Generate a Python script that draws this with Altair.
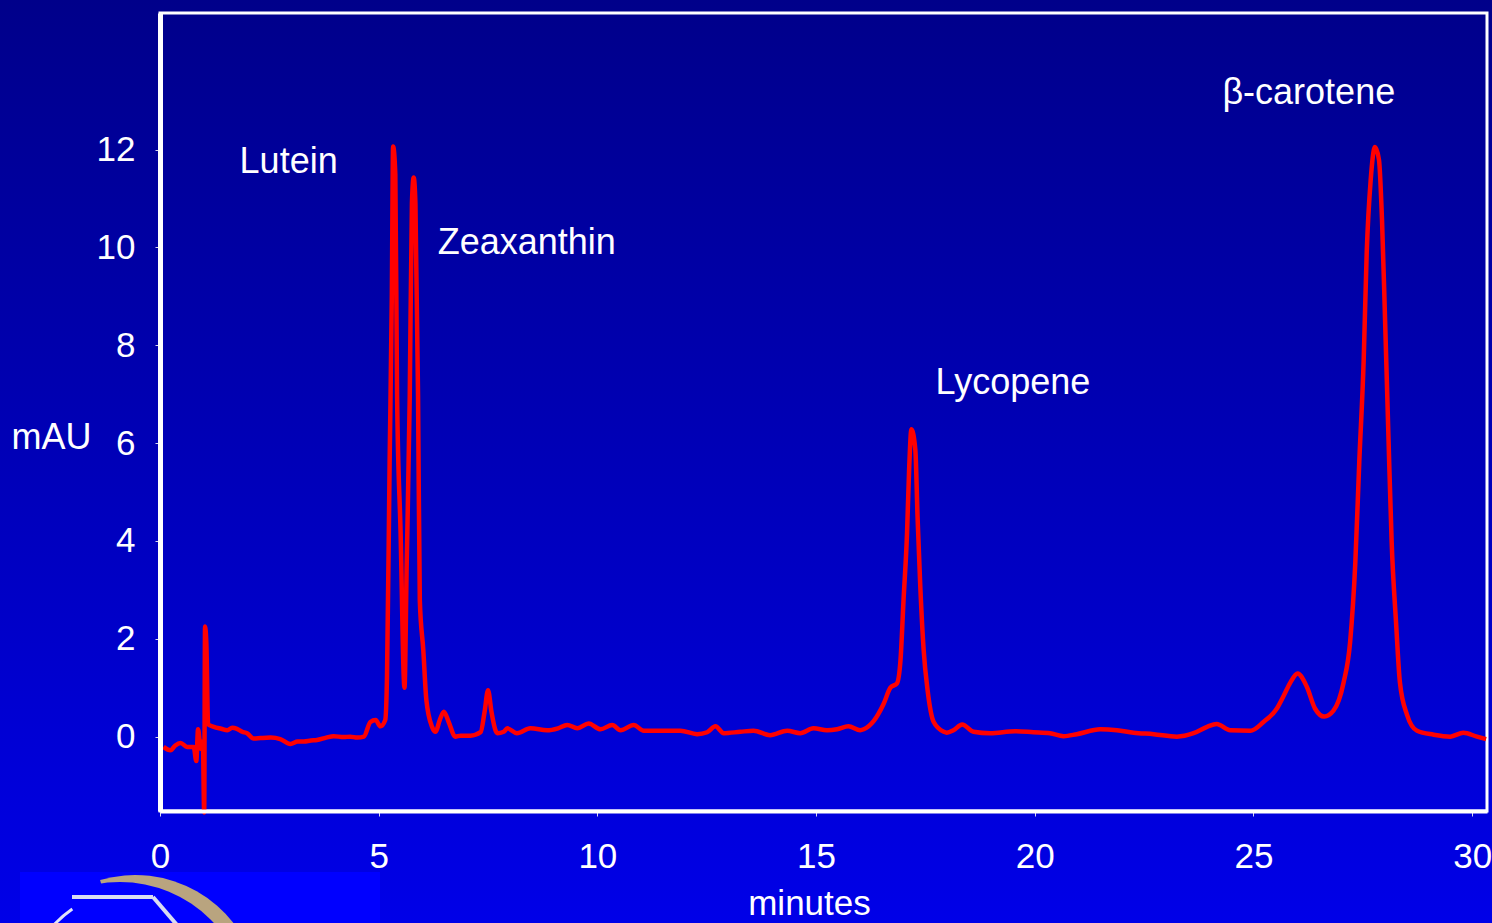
import altair as alt
import pandas as pd

# Chromatogram trace: retention time (minutes) and detector response (mAU)
time_min = [
    0.08, 0.24, 0.35, 0.47, 0.62, 0.77, 0.83, 0.87, 0.93, 0.98,
    1.01, 1.03, 1.06, 1.10, 1.23, 1.40, 1.54, 1.65, 1.76, 1.88,
    1.99, 2.14, 2.30, 2.53, 2.75, 2.98, 3.15, 3.29, 3.45, 3.59,
    3.80, 3.97, 4.20, 4.35, 4.51, 4.66, 4.81, 4.93, 5.04, 5.15,
    5.19, 5.25, 5.30, 5.33, 5.38, 5.42, 5.50, 5.59, 5.64, 5.71,
    5.76, 5.80, 5.84, 5.90, 5.94, 6.02, 6.09, 6.22, 6.30, 6.40,
    6.49, 6.60, 6.75, 6.87, 7.10, 7.33, 7.42, 7.50, 7.58, 7.67,
    7.71, 7.86, 7.94, 8.16, 8.47, 8.85, 9.10, 9.31, 9.54, 9.80,
    10.07, 10.34, 10.53, 10.83, 11.06, 11.44, 11.90, 12.28, 12.51, 12.70,
    12.89, 13.27, 13.57, 13.95, 14.34, 14.64, 14.94, 15.25, 15.48, 15.74,
    16.01, 16.09, 16.32, 16.54, 16.70, 16.85, 16.93, 17.00, 17.08, 17.13,
    17.18, 17.27, 17.32, 17.38, 17.46, 17.55, 17.69, 17.92, 17.99, 18.14,
    18.34, 18.60, 18.98, 19.55, 19.97, 20.35, 20.66, 20.96, 21.50, 21.88,
    22.26, 22.72, 23.25, 23.63, 23.94, 24.16, 24.47, 24.93, 25.23, 25.54,
    25.70, 25.84, 26.01, 26.22, 26.41, 26.62, 26.83, 27.06, 27.21, 27.33,
    27.42, 27.52, 27.59, 27.68, 27.78, 27.87, 27.94, 28.01, 28.09, 28.16,
    28.26, 28.35, 28.51, 28.74, 29.12, 29.50, 29.80, 30.11, 30.32,
]
mau = [
    -0.21, -0.28, -0.18, -0.13, -0.21, -0.21, -0.50, 0.15, -0.25, -0.10,
    -1.55, 2.25, 1.90, 0.25, 0.20, 0.16, 0.13, 0.18, 0.16, 0.10,
    0.07, -0.04, -0.03, -0.02, -0.05, -0.15, -0.10, -0.10, -0.08, -0.07,
    -0.02, 0.01, -0.01, 0.00, -0.02, 0.00, 0.30, 0.34, 0.21, 0.34,
    1.22, 5.60, 9.00, 12.06, 11.50, 7.00, 4.20, 1.00, 3.50, 6.95,
    10.90, 11.43, 10.90, 6.95, 2.79, 1.77, 0.75, 0.20, 0.10, 0.35,
    0.51, 0.30, 0.00, 0.02, 0.02, 0.09, 0.50, 0.95, 0.50, 0.13,
    0.07, 0.10, 0.17, 0.07, 0.17, 0.13, 0.17, 0.24, 0.17, 0.27,
    0.15, 0.24, 0.13, 0.24, 0.12, 0.12, 0.12, 0.05, 0.09, 0.21,
    0.07, 0.10, 0.12, 0.03, 0.12, 0.07, 0.17, 0.13, 0.15, 0.21,
    0.13, 0.15, 0.32, 0.66, 1.00, 1.09, 1.56, 2.79, 4.16, 5.52,
    6.28, 5.86, 4.50, 3.13, 1.77, 0.95, 0.30, 0.10, 0.08, 0.13,
    0.25, 0.10, 0.07, 0.11, 0.09, 0.07, 0.01, 0.05, 0.15, 0.13,
    0.08, 0.05, 0.00, 0.07, 0.20, 0.26, 0.13, 0.12, 0.30, 0.58,
    0.85, 1.10, 1.29, 1.02, 0.57, 0.41, 0.53, 1.10, 1.93, 3.57,
    5.62, 7.68, 9.90, 11.37, 12.05, 11.79, 10.55, 8.50, 6.03, 3.98,
    2.34, 1.10, 0.45, 0.12, 0.04, 0.00, 0.08, 0.00, -0.05,
]

# Peak annotations
peak_names = ["Lutein", "Zeaxanthin", "Lycopene", "β-carotene"]
label_time = [1.82, 6.35, 17.73, 24.29]
label_mau = [11.53, 9.87, 7.00, 12.93]

x_ticks = [0, 5, 10, 15, 20, 25, 30]
y_ticks = [0, 2, 4, 6, 8, 10, 12]

W, H = 1327, 798
PAD = {"left": 160, "top": 13, "right": 5, "bottom": 112}
FONT = "Liberation Sans"

trace = pd.DataFrame({"minutes": time_min, "mAU": mau})
labels = pd.DataFrame({"name": peak_names, "minutes": label_time, "mAU": label_mau})
one = pd.DataFrame({"k": [0]})

x_scale = alt.Scale(domain=[0, 30.34], nice=False, zero=False)
y_scale = alt.Scale(domain=[-1.52, 14.79], nice=False, zero=False)

x_axis = alt.Axis(
    values=x_ticks, title="minutes", titleX=649, titleY=92,
    titleAlign="center", titleBaseline="middle",
    titleFont=FONT, titleFontSize=35, titleFontWeight="normal", titleColor="white",
    labelFont=FONT, labelFontSize=35, labelColor="white", labelPadding=23,
    labelFlush=False,
    tickColor="#d8d8ee", tickSize=5, tickWidth=1,
    domainColor="white", domainWidth=4, grid=False, zindex=1,
)
y_axis = alt.Axis(
    values=y_ticks, title="mAU", titleAngle=0, titleX=-109, titleY=424,
    titleAlign="center", titleBaseline="middle",
    titleFont=FONT, titleFontSize=36, titleFontWeight="normal", titleColor="white",
    labelFont=FONT, labelFontSize=35, labelColor="white", labelPadding=20,
    tickColor="#d8d8ee", tickSize=5, tickWidth=1,
    domainColor="white", domainWidth=5, grid=False, zindex=1,
)

# Slide-style blue gradient behind everything
gradient = {
    "gradient": "linear",
    "x1": 0, "y1": 0, "x2": 0, "y2": 1,
    "stops": [
        {"offset": 0, "color": "#00008a"},
        {"offset": 0.5, "color": "#0000b8"},
        {"offset": 1, "color": "#0000e8"},
    ],
}
background = alt.Chart(one).mark_rect(fill=gradient).encode(
    x=alt.value(-PAD["left"]), x2=alt.value(W + PAD["right"]),
    y=alt.value(-PAD["top"]), y2=alt.value(H + PAD["bottom"]),
)

# Logo fragment in the lower-left corner: blue tile, tan crescent, light chevron
logo_box = alt.Chart(one).mark_rect(fill="#0000ff").encode(
    x=alt.value(-140), x2=alt.value(220), y=alt.value(859), y2=alt.value(915),
)
logo_sector = alt.Chart(one).mark_arc(
    fill="#b9a47f", theta=6.0, theta2=7.6, radius=125
).encode(x=alt.value(-25), y=alt.value(987))
logo_carve = alt.Chart(one).mark_arc(
    fill="#0000ff", theta=0, theta2=6.2832, radius=128
).encode(x=alt.value(-40), y=alt.value(997))
logo_ring = alt.Chart(one).mark_arc(
    fill="#e0e4f8", theta=5.45, theta2=5.68, radius=112, radius2=109
).encode(x=alt.value(-25), y=alt.value(987))
logo_bar = alt.Chart(one).mark_rule(color="#d8dcf2", strokeWidth=4).encode(
    x=alt.value(-88), x2=alt.value(-7), y=alt.value(884), y2=alt.value(884),
)
logo_diag = alt.Chart(one).mark_rule(color="#d8dcf2", strokeWidth=4).encode(
    x=alt.value(-7), x2=alt.value(17), y=alt.value(884), y2=alt.value(912),
)

frame = alt.Chart(one).mark_rect(fillOpacity=0, stroke="white", strokeWidth=3).encode(
    x=alt.value(0), x2=alt.value(W), y=alt.value(0), y2=alt.value(H),
)

line = alt.Chart(trace).mark_line(
    color="#ff0000", strokeWidth=4.5, interpolate="monotone"
).encode(
    x=alt.X("minutes:Q", scale=x_scale, axis=x_axis),
    y=alt.Y("mAU:Q", scale=y_scale, axis=y_axis),
)

text = alt.Chart(labels).mark_text(
    font=FONT, fontSize=36, color="white", align="left", baseline="alphabetic"
).encode(
    x=alt.X("minutes:Q", scale=x_scale),
    y=alt.Y("mAU:Q", scale=y_scale),
    text="name:N",
)

chart = alt.layer(
    background, logo_box, logo_sector, logo_carve, logo_ring, logo_bar, logo_diag,
    frame, line, text,
).properties(
    width=W, height=H,
    autosize=alt.AutoSizeParams(type="none"),
    padding=PAD,
    background="#0000b8",
).configure_view(stroke=None)

chart.save("out.html", embed_options={"renderer": "svg", "actions": False})
